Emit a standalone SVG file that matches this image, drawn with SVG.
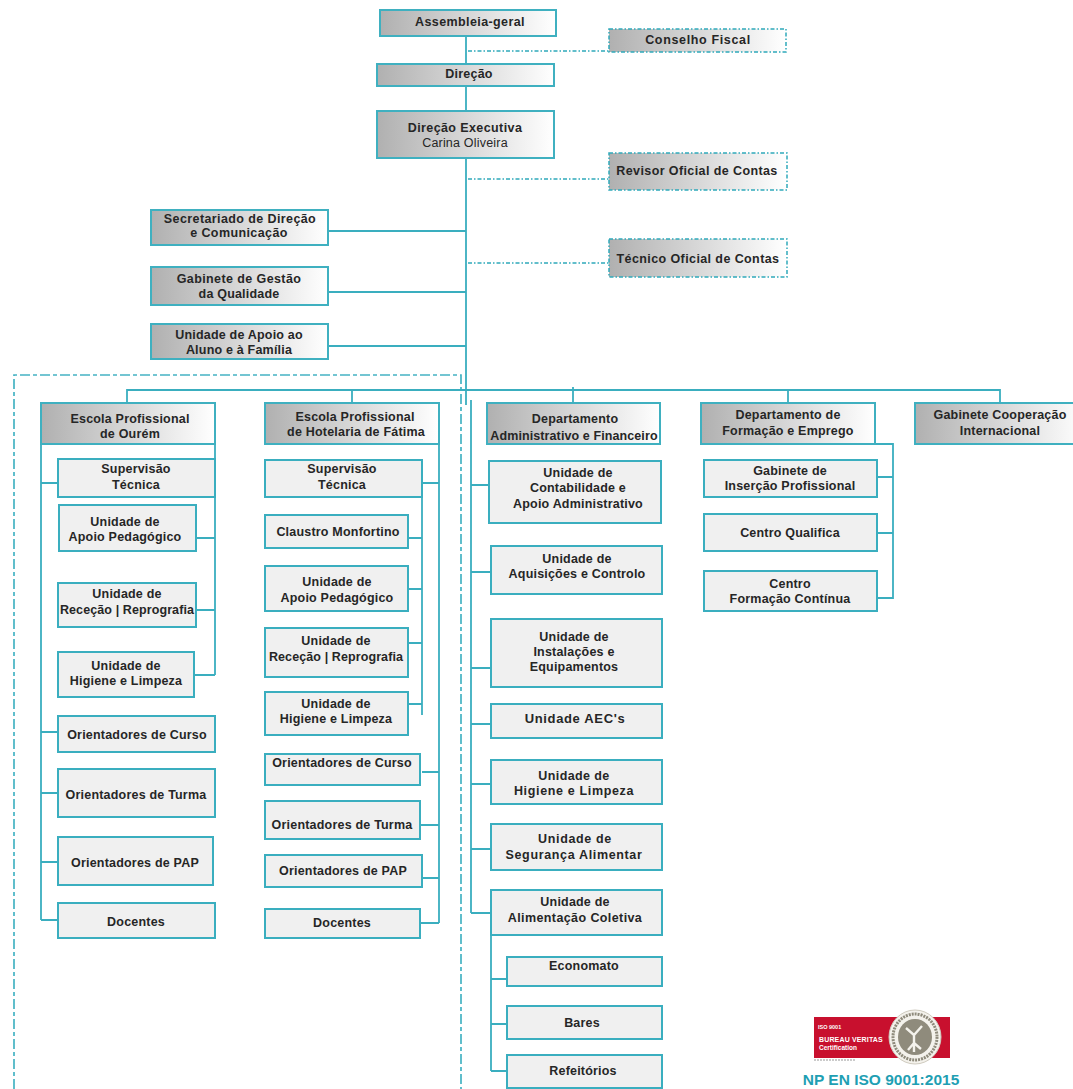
<svg xmlns="http://www.w3.org/2000/svg" width="1073" height="1089" viewBox="0 0 1073 1089">
<style>
.g{fill:url(#grad);stroke:#3fb0c0;stroke-width:2}
.d{fill:url(#grad);stroke:#2fa9ba;stroke-width:1.5;stroke-dasharray:4 2 1.5 2}
.u{fill:#f0f0f0;stroke:#3aaebf;stroke-width:2}
text{font-family:"Liberation Sans",Arial,sans-serif;font-size:12.5px;font-weight:700;fill:#262626;text-anchor:middle;letter-spacing:.2px}
.r{font-weight:400}
.w{letter-spacing:.65px}
.m{letter-spacing:.4px}
.l{text-anchor:start;fill:#fff;letter-spacing:0}
.c path{fill:none;stroke:#3aaebf;stroke-width:1.8}
.c .o{stroke-dasharray:4 2 1.5 2;stroke:#2fa9ba;stroke-width:1.3}
.c .f{stroke-dasharray:10 3 4 3;stroke:#45b3c3;stroke-width:1.7}
</style>
<defs><linearGradient id="grad"><stop offset="0" stop-color="#b0b0b0"/><stop offset="1" stop-color="#fff"/></linearGradient></defs>
<rect width="1073" height="1089" fill="#fff"/>
<g class="c" id="connectors">
<path class="f" d="M14 1089V375H461V1089"/>
<path d="M466 32V405M328 231H466M328 292H466M328 346H466M127 403V390H1000V403M352 390V403M573 387V403M788 390V403"/>
<path class="o" d="M468 51H609M468 179H609M468 263H609"/>
<path d="M41 444V920M41 483H58M41 732H58M41 793H58M41 862H58M41 920H58M215 444V675M196 538H215M196 610H215M194 675H215"/>
<path d="M439 444V923M422 497V715M422 483H439M408 538H422M408 589H422M408 643H422M408 704H422M422 772H439M420 825H439M422 878H439M420 923H439"/>
<path d="M471 400V913M471 485H489M471 572H491M471 668H491M471 724H491M471 784H491M471 849H491M471 913H491M491 936V1071M491 979H507M491 1024H507M491 1071H507"/>
<path d="M875 444H893V598H877M877 477H893M877 533H893"/>
</g>
<g id="assembleia"><rect class="g" x="380" y="10" width="176" height="26"/><text x="470" y="26" class="m">Assembleia-geral</text></g>
<g id="conselho"><rect class="d" x="609" y="29" width="177" height="23"/><text x="698" y="44" class="w">Conselho Fiscal</text></g>
<g id="direcao"><rect class="g" x="377" y="64" width="177" height="22"/><text x="469" y="78">Direção</text></g>
<g id="executiva"><rect class="g" x="377" y="111" width="177" height="47"/><text x="465" y="132" class="m">Direção Executiva</text><text class="r" x="465" y="147">Carina Oliveira</text></g>
<g id="revisor"><rect class="d" x="609" y="153" width="178" height="37"/><text x="697" y="175" class="m">Revisor Oficial de Contas</text></g>
<g id="tecnico"><rect class="d" x="609" y="239" width="178" height="38"/><text x="698" y="263" class="m">Técnico Oficial de Contas</text></g>
<g id="secretariado"><rect class="g" x="151" y="210" width="177" height="35"/><text x="240" y="223" class="m">Secretariado de Direção</text><text x="239" y="237" class="m">e Comunicação</text></g>
<g id="qualidade"><rect class="g" x="151" y="267" width="177" height="38"/><text x="239" y="283" class="m">Gabinete de Gestão</text><text x="239" y="298">da Qualidade</text></g>
<g id="uaaf"><rect class="g" x="151" y="324" width="177" height="35"/><text x="239" y="339">Unidade de Apoio ao</text><text x="239" y="354">Aluno e à Família</text></g>

<g id="ourem"><rect class="g" x="41" y="403" width="174" height="41"/><text x="130" y="423">Escola Profissional</text><text x="130" y="438">de Ourém</text></g>
<g id="o1"><rect class="u" x="58" y="459" width="157" height="38"/><text x="136" y="473">Supervisão</text><text x="136" y="489">Técnica</text></g>
<g id="o2"><rect class="u" x="59" y="505" width="137" height="46"/><text x="125" y="526">Unidade de</text><text x="125" y="541">Apoio Pedagógico</text></g>
<g id="o3"><rect class="u" x="58" y="583" width="138" height="44"/><text x="127" y="598">Unidade de</text><text x="127" y="614" style="letter-spacing:.1px">Receção | Reprografia</text></g>
<g id="o4"><rect class="u" x="58" y="652" width="136" height="45"/><text x="126" y="670">Unidade de</text><text x="126" y="685">Higiene e Limpeza</text></g>
<g id="o5"><rect class="u" x="58" y="716" width="157" height="36"/><text x="137" y="739">Orientadores de Curso</text></g>
<g id="o6"><rect class="u" x="58" y="769" width="157" height="48"/><text x="136" y="799">Orientadores de Turma</text></g>
<g id="o7"><rect class="u" x="58" y="837" width="155" height="48"/><text x="135" y="867">Orientadores de PAP</text></g>
<g id="o8"><rect class="u" x="58" y="903" width="157" height="35"/><text x="136" y="926">Docentes</text></g>

<g id="hotelaria"><rect class="g" x="265" y="403" width="174" height="41"/><text x="355" y="421">Escola Profissional</text><text x="356" y="436">de Hotelaria de Fátima</text></g>
<g id="h1"><rect class="u" x="265" y="460" width="157" height="37"/><text x="342" y="473">Supervisão</text><text x="342" y="489">Técnica</text></g>
<g id="h2"><rect class="u" x="265" y="515" width="143" height="33"/><text x="338" y="536">Claustro Monfortino</text></g>
<g id="h3"><rect class="u" x="265" y="566" width="143" height="45"/><text x="337" y="586">Unidade de</text><text x="337" y="602">Apoio Pedagógico</text></g>
<g id="h4"><rect class="u" x="265" y="628" width="143" height="49"/><text x="336" y="645">Unidade de</text><text x="336" y="661" style="letter-spacing:.1px">Receção | Reprografia</text></g>
<g id="h5"><rect class="u" x="265" y="692" width="143" height="43"/><text x="336" y="708">Unidade de</text><text x="336" y="723">Higiene e Limpeza</text></g>
<g id="h6"><rect class="u" x="265" y="754" width="155" height="31"/><text x="342" y="767">Orientadores de Curso</text></g>
<g id="h7"><rect class="u" x="265" y="801" width="155" height="38"/><text x="342" y="829">Orientadores de Turma</text></g>
<g id="h8"><rect class="u" x="265" y="855" width="157" height="32"/><text x="343" y="875">Orientadores de PAP</text></g>
<g id="h9"><rect class="u" x="265" y="909" width="155" height="29"/><text x="342" y="927">Docentes</text></g>

<g id="daf"><rect class="g" x="487" y="403" width="173" height="41"/><text x="575" y="423">Departamento</text><text x="574" y="440" style="letter-spacing:.1px">Administrativo e Financeiro</text></g>
<g id="a1"><rect class="u" x="489" y="461" width="172" height="62"/><text x="578" y="477">Unidade de</text><text x="578" y="492">Contabilidade e</text><text x="578" y="508">Apoio Administrativo</text></g>
<g id="a2"><rect class="u" x="491" y="546" width="171" height="48"/><text x="577" y="563">Unidade de</text><text x="577" y="578">Aquisições e Controlo</text></g>
<g id="a3"><rect class="u" x="491" y="619" width="171" height="68"/><text x="574" y="641">Unidade de</text><text x="574" y="656">Instalações e</text><text x="574" y="671">Equipamentos</text></g>
<g id="a4"><rect class="u" x="491" y="704" width="171" height="34"/><text x="575" y="723" class="w" style="font-size:13px">Unidade AEC's</text></g>
<g id="a5"><rect class="u" x="491" y="760" width="171" height="44"/><text x="574" y="780" class="m">Unidade de</text><text x="574" y="795" class="w">Higiene e Limpeza</text></g>
<g id="a6"><rect class="u" x="491" y="824" width="171" height="46"/><text x="575" y="843" class="w">Unidade de</text><text x="574" y="859" class="w">Segurança Alimentar</text></g>
<g id="a7"><rect class="u" x="491" y="890" width="171" height="45"/><text x="575" y="906">Unidade de</text><text x="575" y="922" class="m">Alimentação Coletiva</text></g>
<g id="a8"><rect class="u" x="507" y="957" width="155" height="29"/><text x="584" y="970">Economato</text></g>
<g id="a9"><rect class="u" x="507" y="1006" width="155" height="33"/><text x="582" y="1027">Bares</text></g>
<g id="a10"><rect class="u" x="507" y="1055" width="155" height="33"/><text x="583" y="1075">Refeitórios</text></g>

<g id="dfe"><rect class="g" x="701" y="403" width="174" height="41"/><text x="788" y="419">Departamento de</text><text x="788" y="435">Formação e Emprego</text></g>
<g id="f1"><rect class="u" x="704" y="460" width="173" height="37"/><text x="790" y="475">Gabinete de</text><text x="790" y="490">Inserção Profissional</text></g>
<g id="f2"><rect class="u" x="704" y="514" width="173" height="37"/><text x="790" y="537">Centro Qualifica</text></g>
<g id="f3"><rect class="u" x="704" y="571" width="173" height="40"/><text x="790" y="588">Centro</text><text x="790" y="603">Formação Contínua</text></g>
<g id="gci"><rect class="g" x="915" y="403" width="170" height="41"/><text x="1000" y="419">Gabinete Cooperação</text><text x="1000" y="435">Internacional</text></g>

<g id="logo">
<rect x="814" y="1017" width="136" height="41" fill="#c8102e"/>
<path d="M814 1060H855" stroke="#bbb" stroke-width="1.5" stroke-dasharray="2 1" fill="none"/>
<ellipse cx="915" cy="1037" rx="26" ry="27" fill="#f4f2ec" stroke="#cfcbbf"/>
<ellipse cx="915" cy="1037" rx="22" ry="23" fill="none" stroke="#8f8b7c" stroke-width="3" stroke-dasharray="2 1"/>
<ellipse cx="915" cy="1037" rx="17" ry="18" fill="#8f8b7c"/>
<path d="M906 1028l8 7 8-9M914 1035v17M914 1043l-6 7M914 1043l7 6" fill="none" stroke="#f4f2ec" stroke-width="2.4"/>
<text x="818" y="1029" class="l" style="font-size:5.5px">ISO 9001</text>
<text x="819" y="1042" class="l" style="font-size:7px;letter-spacing:.15px">BUREAU VERITAS</text>
<text x="819" y="1050" class="l" style="font-size:6.5px">Certification</text>
<text x="881" y="1085" style="font-size:15.5px;fill:#1f9fb3;letter-spacing:0">NP EN ISO 9001:2015</text>
</g>
</svg>
